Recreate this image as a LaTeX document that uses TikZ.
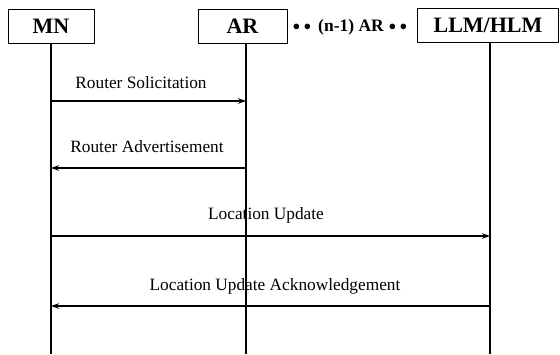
\documentclass[tikz,border=0pt]{standalone}
\usepackage{fontspec}
\setmainfont{Liberation Serif}
\usetikzlibrary{arrows.meta}
\newcommand{\smbul}{\raisebox{0.5pt}{\fontsize{14}{16}\selectfont$\bullet\mkern5mu\bullet$}}
\begin{document}
\begin{tikzpicture}[x=1pt,y=-1pt,
  ent/.style={draw,line width=0.9pt,minimum height=34pt,inner sep=0pt,font=\fontsize{22}{26}\selectfont\bfseries},
  life/.style={line width=1.3pt},
  msg/.style={line width=1.1pt,-{Stealth[length=8pt,width=5.5pt]}},
  lbl/.style={font=\fontsize{17.3}{20}\selectfont,inner sep=0pt}]
\useasboundingbox (0,0) rectangle (560,354);
\node[ent,minimum width=86pt] (mn) at (51,26.5) {MN};
\node[ent,minimum width=89pt] (ar) at (242.5,26.5) {AR};
\node[ent,minimum width=141pt] (llm) at (488,25.5) {LLM/HLM};
\node[font=\fontsize{17.5}{20}\selectfont\bfseries,inner sep=0pt] (dots) at (350,27) {\smbul\hspace{7pt}(n-1) AR\hspace{5pt}\smbul};
\coordinate (mnb) at (51,354);
\coordinate (arb) at (246,354);
\coordinate (llmb) at (490,354);
\coordinate (mnt) at (51,43.5);
\coordinate (art) at (246,43.5);
\coordinate (llmt) at (490,43);
\draw[life] (mnt) -- (mnb);
\draw[life] (art) -- (arb);
\draw[life] (llmt) -- (llmb);
% messages
\coordinate (m1a) at (51,101); \coordinate (m1b) at (246,101);
\draw[msg] (m1a) -- (m1b);
\node[lbl] (t1) at (141,83) {Router Solicitation};
\coordinate (m2a) at (246,168); \coordinate (m2b) at (51,168);
\draw[msg] (m2a) -- (m2b);
\node[lbl] (t2) at (147,147) {Router Advertisement};
\coordinate (m3a) at (51,236); \coordinate (m3b) at (490,236);
\draw[msg] (m3a) -- (m3b);
\node[lbl] (t3) at (266,215) {Location Update};
\coordinate (m4a) at (490,306); \coordinate (m4b) at (51,306);
\draw[msg] (m4a) -- (m4b);
\node[lbl] (t4) at (275,286) {Location Update Acknowledgement};
\end{tikzpicture}
\end{document}
